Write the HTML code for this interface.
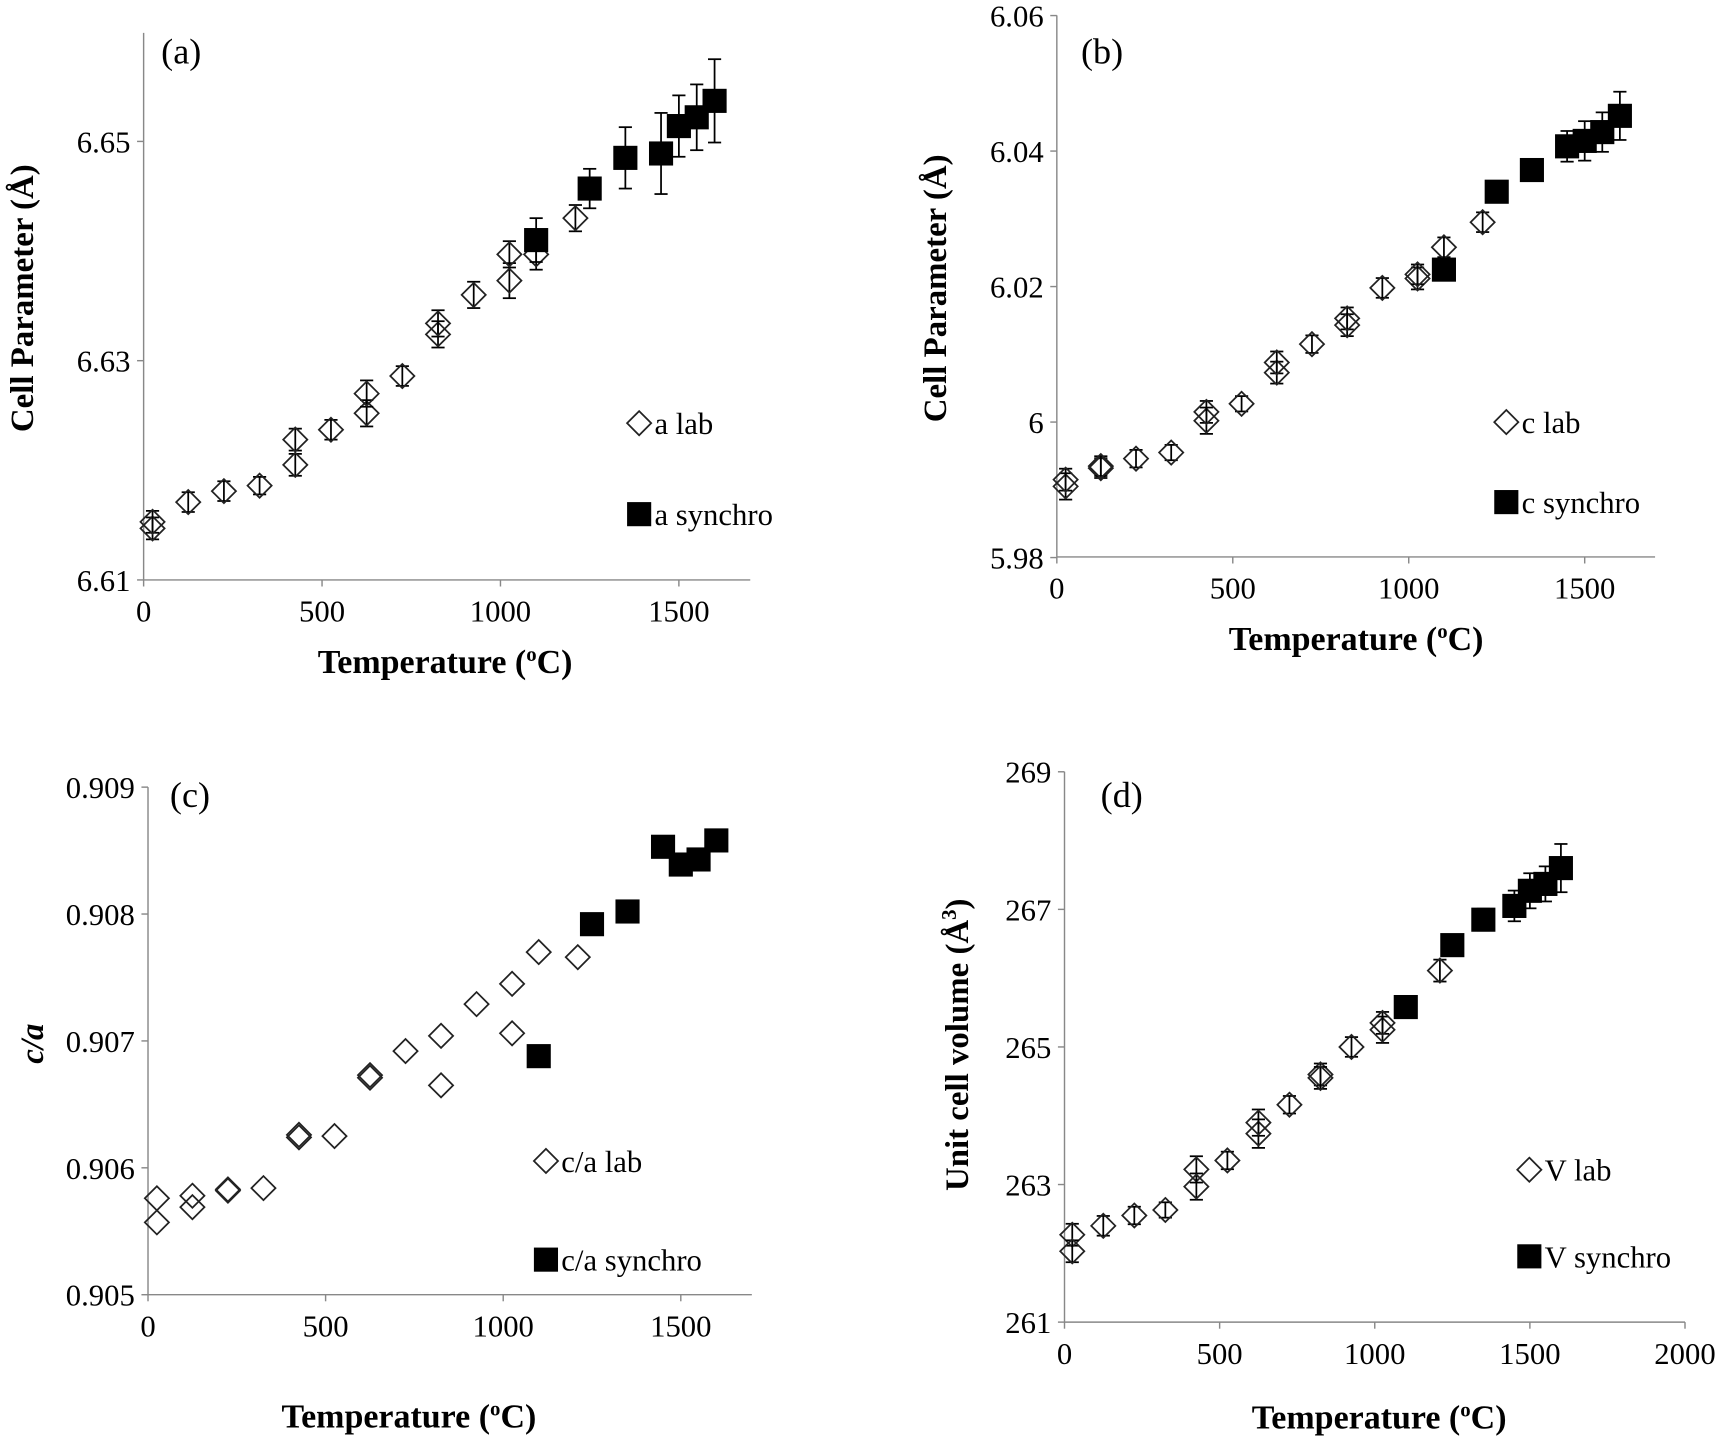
<!DOCTYPE html>
<html><head><meta charset="utf-8"><style>html,body{margin:0;padding:0;background:#fff}svg{display:block}</style></head>
<body>
<svg id="s" width="1719" height="1438" viewBox="0 0 1568 1311.7" xmlns="http://www.w3.org/2000/svg" font-family="Liberation Serif, serif">
<rect width="1568" height="1312" fill="#fff"/>
<g id="g"></g>
</svg>
<script>
var g=document.getElementById('g'),h='';
function L(x1,y1,x2,y2,c,w){h+='<line x1="'+x1+'" y1="'+y1+'" x2="'+x2+'" y2="'+y2+'" stroke="'+(c||'#000')+'" stroke-width="'+(w||1.5)+'"/>';}
function T(x,y,t,o){h+='<text x="'+x+'" y="'+y+'" '+(o||'')+'>'+t+'</text>';}
function dia(x,y){h+='<path d="M'+x+' '+(y-11)+'L'+(x+11)+' '+y+'L'+x+' '+(y+11)+'L'+(x-11)+' '+y+'Z" fill="none" stroke="#222" stroke-width="1.6"/>';}
function sq(x,y){h+='<rect x="'+(x-11)+'" y="'+(y-11)+'" width="22" height="22" fill="#000"/>';}
function eb(x,y,e){L(x,y-e,x,y+e,'#000',1.6);L(x-6,y-e,x+6,y-e,'#000',1.6);L(x-6,y+e,x+6,y+e,'#000',1.6);}
function panel(P){
 var X=function(t){return P.x0+t*P.kx;},Y=function(v){return P.y0+(v-P.v0)*P.ky;};
 L(P.x0,P.ytop,P.x0,P.ybot,'#888',1.3);L(P.x0,P.ybot,X(P.xmax),P.ybot,'#888',1.3);
 P.yt.forEach(function(v){var y=Y(v[0]);L(P.x0-6,y,P.x0,y,'#888',1.3);T(P.x0-12,y+10,v[1],'font-size="28" text-anchor="end"');});
 P.xt.forEach(function(t){var x=X(t);L(x,P.ybot,x,P.ybot+6,'#888',1.3);T(x,P.ybot+38,t,'font-size="28" text-anchor="middle"');});
 P.lab.forEach(function(d){if(d[2])eb(X(d[0]),Y(d[1]),d[2]);dia(X(d[0]),Y(d[1]));});
 P.syn.forEach(function(d){if(d[2])eb(X(d[0]),Y(d[1]),d[2]);sq(X(d[0]),Y(d[1]));});
 dia(P.lg[0],P.lg[1]);T(P.lg[0]+14,P.lg[1]+10,P.lt[0],'font-size="28"');
 sq(P.lg[0],P.lg[2]);T(P.lg[0]+14,P.lg[2]+10,P.lt[1],'font-size="28"');
 T(P.pl[0],P.pl[1],P.pl[2],'font-size="33"');
 T(P.xl[0],P.xl[1],'Temperature (<tspan baseline-shift="super" font-size="19">o</tspan>C)','font-size="31" font-weight="bold" text-anchor="middle"');
 h+='<text transform="translate('+P.yl[0]+','+P.yl[1]+') rotate(-90)" font-size="30" font-weight="bold" text-anchor="middle" '+(P.yi||'')+'>'+P.yl[2]+'</text>';
}
panel({x0:131,kx:0.3255,y0:529,v0:6.61,ky:-10000,ytop:30,ybot:529,xmax:1700,
 yt:[[6.61,'6.61'],[6.63,'6.63'],[6.65,'6.65']],xt:[0,500,1000,1500],
 lab:[[25,6.6147,10],[25,6.6153,10],[125,6.6171,9],[225,6.6181,9],[325,6.6186,8],[425,6.6205,10],[425,6.6228,10],[525,6.6237,9],[625,6.6252,12],[625,6.6270,12],[725,6.6286,9],[825,6.6324,12],[825,6.6334,12],[925,6.6360,12],[1025,6.6373,16],[1025,6.6397,12],[1100,6.6397,14],[1210,6.6430,12]],
 syn:[[1100,6.6410,20],[1250,6.6457,18],[1350,6.6485,28],[1450,6.6489,37],[1500,6.6514,28],[1550,6.6522,30],[1600,6.6537,38]],
 lg:[583,386,469],lt:['a lab','a synchro'],pl:[147,58,'(a)'],xl:[406,614],yl:[30,272,'Cell Parameter (Å)']});
panel({x0:964,kx:0.321,y0:385,v0:6.0,ky:-6180,ytop:14,ybot:508,xmax:1700,
 yt:[[5.98,'5.98'],[6.0,'6'],[6.02,'6.02'],[6.04,'6.04'],[6.06,'6.06']],xt:[0,500,1000,1500],
 lab:[[25,5.9905,12],[25,5.9915,10],[125,5.9932,9],[125,5.9935,9],[225,5.9946,8],[325,5.9955,7],[425,6.0002,12],[425,6.0015,10],[525,6.0027,7],[625,6.0073,10],[625,6.0088,10],[725,6.0115,8],[825,6.0143,10],[825,6.0153,10],[925,6.0198,9],[1025,6.0212,10],[1025,6.0218,9],[1100,6.0258,9],[1210,6.0295,9]],
 syn:[[1100,6.0225,10],[1250,6.0340,8],[1350,6.0372,10],[1450,6.0407,14],[1500,6.0415,18],[1550,6.0428,18],[1600,6.0452,22]],
 lg:[1374,385,458],lt:['c lab','c synchro'],pl:[986,58,'(b)'],xl:[1237,593],yl:[863,263,'Cell Parameter (Å)']});
panel({x0:135,kx:0.324,y0:1181,v0:0.905,ky:-115750,ytop:718,ybot:1181,xmax:1700,
 yt:[[0.905,'0.905'],[0.906,'0.906'],[0.907,'0.907'],[0.908,'0.908'],[0.909,'0.909']],xt:[0,500,1000,1500],
 lab:[[25,.90576],[25,.90557],[125,.90578],[125,.90569],[225,.90583],[225,.90582],[325,.90584],[425,.90626],[425,.90624],[525,.90625],[625,.90673],[625,.90671],[725,.90692],[825,.90704],[825,.90665],[925,.90729],[1025,.90745],[1025,.90706],[1100,.90770],[1210,.90766]],
 syn:[[1100,.90688],[1250,.90792],[1350,.90802],[1450,.90853],[1500,.90839],[1550,.90843],[1600,.90858]],
 lg:[498,1059,1149],lt:['c/a lab','c/a synchro'],pl:[155,736,'(c)'],xl:[373,1302],yl:[39,952,'c/a'],yi:'font-style="italic"'});
panel({x0:971,kx:0.283,y0:1206,v0:261,ky:-62.75,ytop:704,ybot:1206,xmax:2000,
 yt:[[261,'261'],[263,'263'],[265,'265'],[267,'267'],[269,'269']],xt:[0,500,1000,1500,2000],
 lab:[[25,262.27,10],[25,262.03,10],[125,262.40,9],[225,262.55,8],[325,262.63,7],[425,263.22,12],[425,262.97,12],[525,263.35,8],[625,263.74,13],[625,263.90,12],[725,264.16,8],[825,264.60,10],[825,264.55,10],[925,265.00,9],[1025,265.25,12],[1025,265.35,10],[1210,266.11,10]],
 syn:[[1100,265.58,10],[1250,266.48,8],[1350,266.85,10],[1450,267.05,14],[1500,267.27,16],[1550,267.37,16],[1600,267.60,22]],
 lg:[1395,1067,1146],lt:['V lab','V synchro'],pl:[1004,736,'(d)'],xl:[1258,1303],yl:[883,953,'Unit cell volume (Å<tspan baseline-shift="super" font-size="19">3</tspan>)']});
g.innerHTML=h;
</script>
</body></html>
